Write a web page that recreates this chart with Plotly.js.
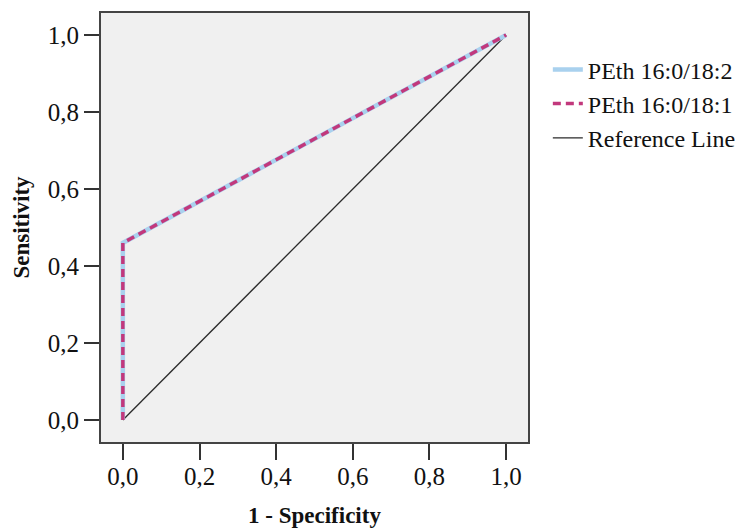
<!DOCTYPE html>
<html>
<head>
<meta charset="utf-8">
<script src="https://cdn.plot.ly/plotly-3.0.1.min.js"></script>
<style>
  html, body { margin: 0; padding: 0; background: #ffffff; }
  #chart { width: 752px; height: 528px; }
</style>
</head>
<body>
<div id="chart"></div>
<script>
// ROC curve coordinates (1 - specificity, sensitivity)
const fpr_18_2 = [0, 0, 1];
const tpr_18_2 = [0, 0.46, 1];
const fpr_18_1 = [0, 0, 1];
const tpr_18_1 = [0, 0.46, 1];
const refX = [0, 1];
const refY = [0, 1];
const tickValues = [0, 0.2, 0.4, 0.6, 0.8, 1.0];

const serif = 'Liberation Serif, Times New Roman, serif';

const traces = [
  {
    x: refX, y: refY, type: 'scatter', mode: 'lines',
    name: 'Reference Line', legendrank: 3,
    line: { color: '#2a2a2a', width: 1.3 }
  },
  {
    x: fpr_18_2, y: tpr_18_2, type: 'scatter', mode: 'lines',
    name: 'PEth 16:0/18:2', legendrank: 1,
    line: { color: '#a9d1ee', width: 4.5 }
  },
  {
    x: fpr_18_1, y: tpr_18_1, type: 'scatter', mode: 'lines',
    name: 'PEth 16:0/18:1', legendrank: 2,
    line: { color: '#c2387c', width: 3.5, dash: '8px,5px' }
  }
];

const axisCommon = {
  range: [-0.057, 1.057],
  tickvals: tickValues,
  tickformat: '.1f',
  ticks: 'outside',
  ticklen: 16,
  tickwidth: 2,
  tickcolor: '#333333',
  showgrid: false,
  zeroline: false,
  showline: true,
  mirror: true,
  linecolor: '#444444',
  linewidth: 2,
  tickfont: { family: serif, size: 25, color: '#111111' }
};

const layout = {
  width: 752,
  height: 528,
  margin: { l: 101, r: 223, t: 13, b: 86 },
  paper_bgcolor: '#ffffff',
  plot_bgcolor: '#f0f0f0',
  separators: ',.',
  showlegend: true,
  legend: {
    x: 1.044, y: 0.92, xanchor: 'left', yanchor: 'top',
    bgcolor: 'rgba(0,0,0,0)',
    font: { family: serif, size: 24, color: '#111111' },
    traceorder: 'normal'
  },
  xaxis: Object.assign({}, axisCommon, {
    ticklabelstandoff: -5,
    title: { text: '<b>1 - Specificity</b>', font: { family: serif, size: 23, color: '#111111' }, standoff: 28 }
  }),
  yaxis: Object.assign({}, axisCommon, {
    ticklen: 15,
    title: { text: '<b>Sensitivity</b>', font: { family: serif, size: 23, color: '#111111' }, standoff: 12 }
  })
};

Plotly.newPlot('chart', traces, layout, { staticPlot: true, displayModeBar: false });
</script>
</body>
</html>
